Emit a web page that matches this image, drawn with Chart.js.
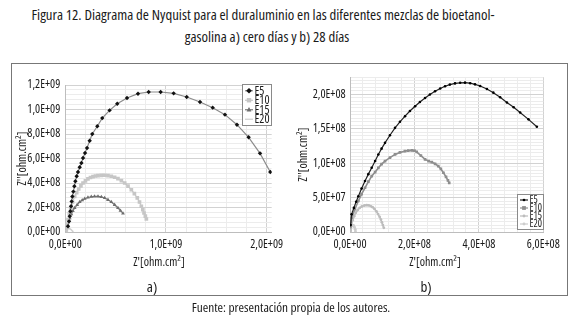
<!DOCTYPE html>
<html>
<head>
<meta charset="utf-8">
<script src="https://cdn.jsdelivr.net/npm/chart.js@4/dist/chart.umd.min.js"></script>
<style>
  body { margin: 0; width: 580px; height: 322px; background: #fff; position: relative; overflow: hidden;
         font-family: 'Open Sans', sans-serif; font-stretch: condensed; color: #1a1a1a; }
  .t { position: absolute; white-space: nowrap; transform: translateX(-50%); line-height: 1; }
  #frame { position: absolute; left: 11px; top: 63px; width: 557px; height: 233px; border: 1.5px solid #777; box-sizing: border-box; }
  canvas { position: absolute; }
</style>
</head>
<body>
<div class="t" style="left:263px;top:7px;font-size:14.8px">Figura 12. Diagrama de Nyquist para el duraluminio en las diferentes mezclas de bioetanol-</div>
<div class="t" style="left:267px;top:29px;font-size:14.8px">gasolina a) cero días y b) 28 días</div>
<div id="frame"></div>
<canvas id="chartA" width="272" height="189" style="left:12px;top:66px"></canvas>
<canvas id="chartB" width="276" height="189" style="left:292px;top:66px"></canvas>
<div class="t" style="left:159px;top:256px;font-size:12px">Z'[ohm.cm²]</div>
<div class="t" style="left:435px;top:256px;font-size:12px">Z'[ohm.cm²]</div>
<div class="t" style="left:152px;top:279px;font-size:15px">a)</div>
<div class="t" style="left:426px;top:279px;font-size:15px">b)</div>
<div class="t" style="left:291px;top:301px;font-size:13.3px">Fuente: presentación propia de los autores.</div>

<script>
// ---- datos: a) cero días (ohm.cm2) ----
const seriesNames = ['E5', 'E10', 'E15', 'E20'];

const e5aRe = [0.027, 0.037, 0.044, 0.050, 0.057, 0.063, 0.070, 0.080, 0.090, 0.100, 0.113, 0.126, 0.143, 0.160, 0.176, 0.196, 0.216, 0.242, 0.268, 0.318, 0.367, 0.440, 0.516, 0.613, 0.722, 0.828, 0.947, 1.076, 1.206, 1.338, 1.464, 1.586, 1.705, 1.821, 1.934, 2.036].map(v => v * 1e9);
const e5aIm = [0.047, 0.087, 0.128, 0.169, 0.210, 0.250, 0.290, 0.330, 0.373, 0.414, 0.455, 0.490, 0.528, 0.563, 0.604, 0.645, 0.686, 0.745, 0.800, 0.863, 0.930, 0.993, 1.047, 1.094, 1.129, 1.143, 1.143, 1.132, 1.102, 1.061, 1.015, 0.958, 0.876, 0.773, 0.642, 0.490].map(v => v * 1e9);

const e10aRe = [0.005, 0.010, 0.018, 0.027, 0.040, 0.054, 0.072, 0.093, 0.113, 0.133, 0.155, 0.176, 0.200, 0.225, 0.250, 0.275, 0.300, 0.325, 0.358, 0.391, 0.424, 0.457, 0.490, 0.523, 0.557, 0.590, 0.623, 0.656, 0.686, 0.715, 0.737, 0.755, 0.770, 0.782, 0.795, 0.805].map(v => v * 1e9);
const e10aIm = [0.005, 0.019, 0.060, 0.100, 0.150, 0.196, 0.245, 0.290, 0.322, 0.351, 0.377, 0.400, 0.418, 0.433, 0.445, 0.452, 0.457, 0.460, 0.462, 0.463, 0.460, 0.455, 0.447, 0.435, 0.419, 0.400, 0.375, 0.345, 0.313, 0.278, 0.245, 0.210, 0.182, 0.155, 0.130, 0.106].map(v => v * 1e9);

const e15aRe = [0.005, 0.010, 0.020, 0.030, 0.044, 0.060, 0.075, 0.093, 0.118, 0.143, 0.168, 0.193, 0.225, 0.258, 0.290, 0.325, 0.358, 0.391, 0.424, 0.457, 0.490, 0.523, 0.548, 0.573].map(v => v * 1e9);
const e15aIm = [0.005, 0.019, 0.050, 0.080, 0.114, 0.145, 0.172, 0.196, 0.222, 0.245, 0.260, 0.272, 0.282, 0.288, 0.291, 0.291, 0.287, 0.278, 0.263, 0.245, 0.222, 0.196, 0.174, 0.152].map(v => v * 1e9);

const e20aRe = [0.002, 0.008, 0.018, 0.030, 0.045, 0.058, 0.068, 0.075].map(v => v * 1e9);
const e20aIm = [0.002, 0.015, 0.024, 0.028, 0.026, 0.019, 0.011, 0.004].map(v => v * 1e9);

// ---- datos: b) 28 días (ohm.cm2) ----
const e5bRe = [0.02, 0.05, 0.12, 0.19, 0.26, 0.36, 0.466, 0.57, 0.674, 0.78, 0.88, 0.98, 1.087, 1.24, 1.398, 1.55, 1.708, 1.86, 2.02, 2.17, 2.33, 2.48, 2.64, 2.80, 2.95, 3.10, 3.26, 3.42, 3.57, 3.73, 3.88, 4.04, 4.25, 4.45, 4.66, 4.87, 5.08, 5.28, 5.54, 5.80].map(v => v * 1e8);
const e5bIm = [0.10, 0.257, 0.35, 0.44, 0.52, 0.63, 0.74, 0.84, 0.932, 1.03, 1.126, 1.21, 1.294, 1.405, 1.512, 1.6, 1.681, 1.756, 1.826, 1.888, 1.946, 1.996, 2.043, 2.082, 2.116, 2.14, 2.157, 2.166, 2.168, 2.16, 2.143, 2.12, 2.075, 2.023, 1.955, 1.879, 1.81, 1.734, 1.635, 1.527].map(v => v * 1e8);

const e10bRe = [0.0, 0.02, 0.05, 0.15, 0.26, 0.36, 0.466, 0.57, 0.674, 0.78, 0.88, 0.98, 1.087, 1.24, 1.398, 1.55, 1.708, 1.81, 1.916, 2.0, 2.07, 2.2, 2.33, 2.44, 2.54, 2.64, 2.74, 2.82, 2.90, 2.98, 3.04, 3.08].map(v => v * 1e8);
const e10bIm = [0.07, 0.15, 0.207, 0.33, 0.45, 0.55, 0.642, 0.73, 0.81, 0.87, 0.93, 0.985, 1.03, 1.08, 1.126, 1.155, 1.174, 1.182, 1.184, 1.18, 1.164, 1.11, 1.054, 1.03, 1.014, 0.99, 0.957, 0.915, 0.86, 0.8, 0.75, 0.714].map(v => v * 1e8);

const e15bRe = [0.01, 0.03, 0.08, 0.13, 0.18, 0.24, 0.30, 0.37, 0.45, 0.52, 0.58, 0.64, 0.70, 0.76, 0.82, 0.87, 0.92, 0.96, 0.99, 1.02, 1.05].map(v => v * 1e8);
const e15bIm = [0.02, 0.08, 0.17, 0.23, 0.28, 0.32, 0.35, 0.37, 0.385, 0.39, 0.387, 0.377, 0.36, 0.335, 0.30, 0.26, 0.22, 0.18, 0.14, 0.10, 0.06].map(v => v * 1e8);

const e20bRe = [0.01, 0.03, 0.05, 0.08, 0.11, 0.14, 0.16, 0.17].map(v => v * 1e8);
const e20bIm = [0.01, 0.06, 0.09, 0.10, 0.095, 0.07, 0.04, 0.01].map(v => v * 1e8);

// ---- ejes: ticks con etiqueta ----
const xTicksA = [0, 1e9, 2e9];
const yTicksA = [0, 2e8, 4e8, 6e8, 8e8, 1e9, 1.2e9];
const xTicksB = [0, 2e8, 4e8, 6e8];
const yTicksB = [0, 5e7, 1e8, 1.5e8, 2e8];

const FONT = "'Open Sans', sans-serif";
Chart.defaults.font.family = FONT;
Chart.defaults.font.weight = 'condensed';   // font-stretch dentro del string de fuente
Chart.defaults.color = '#1a1a1a';

// 1,2E+09 style
function fmtSci(v) {
  const [m, e] = v.toExponential(1).split('e');
  const n = parseInt(e, 10);
  return m.replace('.', ',') + 'E' + (n < 0 ? '-' : '+') + String(Math.abs(n)).padStart(2, '0');
}

const pts = (re, im) => re.map((x, i) => ({ x: x, y: im[i] }));

function isMajor(v, majors) {
  return majors.some(m => Math.abs(m - v) < 1e-6 * (Math.abs(m) + 1));
}

function axis(min, max, step, majors, fixed, isX, pad) {
  return {
    type: 'linear',
    min: min, max: max,
    border: { color: '#bdbdbd' },
    grid: {
      drawTicks: false,
      color: ctx => isMajor(ctx.tick.value, majors) ? '#d2d2d2' : '#ececec',
      lineWidth: 1
    },
    ticks: {
      autoSkip: false, maxRotation: 0, padding: pad,
      font: { size: 12, weight: '500 semi-condensed' },
      callback: v => isMajor(v, majors) ? fmtSci(v) : ''
    },
    afterBuildTicks: s => {
      const t = [];
      const n = Math.round((max - min) / step);
      for (let i = 0; i <= n; i++) t.push({ value: min + i * step });
      s.ticks = t;
    },
    afterFit: s => {
      if (isX) { s.height = fixed; s.paddingLeft = 0; s.paddingRight = 0; }
      else { s.width = fixed; s.paddingTop = 0; s.paddingBottom = 0; }
    }
  };
}

function marker(ctx, style, r, x, y) {
  ctx.beginPath();
  if (style === 'rect') ctx.rect(x - r, y - r, 2 * r, 2 * r);
  else if (style === 'rectRot') { ctx.moveTo(x, y - r * 1.3); ctx.lineTo(x + r * 1.3, y); ctx.lineTo(x, y + r * 1.3); ctx.lineTo(x - r * 1.3, y); ctx.closePath(); }
  else if (style === 'triangle') { ctx.moveTo(x, y - r * 1.2); ctx.lineTo(x + r * 1.1, y + r * 0.8); ctx.lineTo(x - r * 1.1, y + r * 0.8); ctx.closePath(); }
  else ctx.arc(x, y, r, 0, Math.PI * 2);
  ctx.fill();
}

// leyenda con recuadro dentro del área de trazado
const boxLegend = {
  id: 'boxLegend',
  afterDraw(chart, args, o) {
    const ctx = chart.ctx;
    const dss = chart.data.datasets;
    const h = o.rowH * dss.length + 3;
    ctx.save();
    ctx.fillStyle = '#fff';
    ctx.fillRect(o.x, o.y, o.w, h);
    ctx.strokeStyle = '#8a8a8a';
    ctx.lineWidth = 1;
    ctx.strokeRect(o.x + 0.5, o.y + 0.5, o.w, h);
    ctx.font = 'condensed ' + o.fontSize + 'px ' + FONT;
    ctx.textBaseline = 'middle';
    dss.forEach((ds, i) => {
      const cy = o.y + 2 + o.rowH * (i + 0.5);
      ctx.strokeStyle = ds.borderColor;
      ctx.lineWidth = 1.2;
      ctx.beginPath(); ctx.moveTo(o.x + 3, cy); ctx.lineTo(o.x + 11, cy); ctx.stroke();
      if (ds.pointRadius > 0) {
        ctx.fillStyle = ds.pointBackgroundColor;
        marker(ctx, ds.pointStyle, Math.min(ds.pointRadius, 2.2), o.x + 7, cy);
      }
      ctx.fillStyle = '#1a1a1a';
      ctx.fillText(ds.label, o.x + 12.5, cy + 0.5);
    });
    ctx.restore();
  }
};

function ds(label, data, line, fill, style, r, w) {
  return {
    label: label, data: data, showLine: true, tension: 0,
    borderColor: line, borderWidth: w,
    pointStyle: style, pointRadius: r, pointHoverRadius: r,
    pointBackgroundColor: fill, pointBorderColor: fill, pointBorderWidth: 0
  };
}

function yTitle(pt) {
  return { display: true, text: "Z''[ohm.cm²]", font: { size: 12 }, color: '#1a1a1a', padding: { top: pt, bottom: 2 } };
}

// a) cero días
const yA = axis(0, 1.2e9, 4e7, yTicksA, 53.3, false, 5);
yA.title = yTitle(3);
new Chart(document.getElementById('chartA'), {
  type: 'scatter',
  data: {
    datasets: [
      ds(seriesNames[0], pts(e5aRe, e5aIm), '#8c8c8c', '#111', 'rectRot', 2.2, 1.2),
      ds(seriesNames[1], pts(e10aRe, e10aIm), '#c6c6c6', '#c6c6c6', 'rect', 2.6, 1.2),
      ds(seriesNames[2], pts(e15aRe, e15aIm), '#7a7a7a', '#6e6e6e', 'triangle', 2.2, 1.2),
      ds(seriesNames[3], pts(e20aRe, e20aIm), '#cfcfcf', '#cfcfcf', 'circle', 0, 1.5)
    ]
  },
  options: {
    responsive: false, animation: false, events: [],
    layout: { padding: { top: 19, right: 12.3, left: 0, bottom: 0 } },
    plugins: {
      legend: { display: false }, tooltip: { enabled: false },
      boxLegend: { x: 230, y: 18, w: 29, rowH: 9.5, fontSize: 12 }
    },
    scales: {
      x: axis(0, 2.05e9, 2e8, xTicksA, 23, true, 5),
      y: yA
    }
  },
  plugins: [boxLegend]
});

// b) 28 días
const yB = axis(0, 2.25e8, 5e6, yTicksB, 58, false, 4.3);
yB.title = yTitle(4);
new Chart(document.getElementById('chartB'), {
  type: 'scatter',
  data: {
    datasets: [
      ds(seriesNames[0], pts(e5bRe, e5bIm), '#222', '#000', 'circle', 1.3, 1.2),
      ds(seriesNames[1], pts(e10bRe, e10bIm), '#8e8e8e', '#8e8e8e', 'rect', 1.9, 1.6),
      ds(seriesNames[2], pts(e15bRe, e15bIm), '#bdbdbd', '#bdbdbd', 'circle', 1.4, 1.6),
      ds(seriesNames[3], pts(e20bRe, e20bIm), '#cdcdcd', '#cdcdcd', 'circle', 1.4, 1.6)
    ]
  },
  options: {
    responsive: false, animation: false, events: [],
    layout: { padding: { top: 11, right: 24.7, left: 0, bottom: 0 } },
    plugins: {
      legend: { display: false }, tooltip: { enabled: false },
      boxLegend: { x: 225, y: 128, w: 26, rowH: 8, fontSize: 10 }
    },
    scales: {
      x: axis(0, 6e8, 4e7, xTicksB, 23, true, 5),
      y: yB
    }
  },
  plugins: [boxLegend]
});
</script>
</body>
</html>
